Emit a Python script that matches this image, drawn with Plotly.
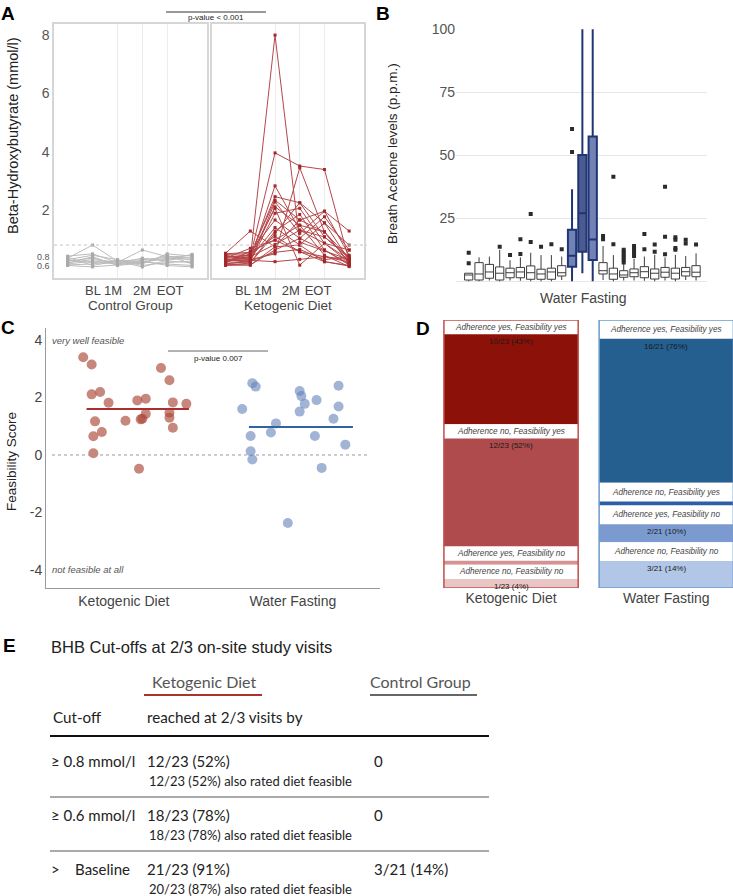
import plotly.graph_objects as go

W, H = 733, 896


def fx(px):
    return px / W


def fy(py):
    return 1 - py / H


# ---------------- A: beta-hydroxybutyrate per visit
TIME_TICKS = ['BL', '1M', '2M', 'EOT']
A_YTICK_TEXT = ['0.6', '0.8', '2', '4', '6', '8']
A_CUTOFF = 0.8
A_GROUPS = ['Control Group', 'Ketogenic Diet']
A_PVALUE = 'p-value < 0.001'

control_bhb = [
    [0.35, 0.80, 0.25, 0.30, 0.38, 0.45],
    [0.42, 0.50, 0.20, 0.63, 0.40, 0.35],
    [0.30, 0.45, 0.30, 0.15, 0.50, 0.42],
    [0.25, 0.35, 0.15, 0.28, 0.30, 0.48],
    [0.20, 0.30, 0.22, 0.20, 0.35, 0.30],
    [0.15, 0.25, 0.18, 0.35, 0.25, 0.20],
    [0.12, 0.15, 0.28, 0.10, 0.20, 0.25],
    [0.10, 0.05, 0.12, 0.22, 0.15, 0.10],
    [0.18, 0.40, 0.10, 0.18, 0.45, 0.15],
    [0.28, 0.20, 0.16, 0.25, 0.10, 0.05],
    [0.38, 0.10, 0.25, 0.05, 0.28, 0.38],
]

keto_bhb = [
    [0.30, 0.35, 8.00, 0.90, 0.60, 0.30],
    [0.35, 0.40, 3.96, 3.51, 3.39, 0.25],
    [0.25, 0.30, 2.83, 1.31, 1.08, 0.40],
    [0.40, 0.45, 2.46, 2.25, 1.56, 0.80],
    [0.20, 0.50, 2.34, 1.66, 1.96, 1.28],
    [0.45, 0.30, 2.11, 1.48, 1.25, 0.35],
    [0.15, 0.25, 1.89, 2.06, 0.86, 0.20],
    [0.50, 0.55, 1.66, 1.03, 1.77, 0.63],
    [0.30, 0.20, 1.28, 1.85, 0.63, 0.15],
    [0.35, 0.69, 0.97, 0.57, 0.40, 0.30],
    [0.52, 1.28, 0.74, 0.80, 0.23, 0.10],
    [0.25, 0.30, 0.50, 3.45, 1.25, 0.20],
    [0.18, 0.22, 2.28, 1.20, 1.96, 0.45],
    [0.12, 0.18, 1.20, 2.25, 1.08, 0.34],
    [0.28, 0.40, 0.82, 1.31, 0.86, 0.63],
    [0.42, 0.35, 1.40, 0.80, 1.56, 0.28],
    [0.10, 0.12, 0.63, 1.03, 0.63, 0.12],
    [0.32, 0.28, 0.23, 0.31, 0.40, 0.22],
    [0.48, 0.50, 1.10, 0.57, 0.23, 0.08],
    [0.15, 0.11, 0.74, 1.66, 1.25, 0.18],
    [0.38, 0.45, 2.06, 0.11, 0.86, 0.30],
    [0.22, 0.58, 0.97, 1.48, 0.45, 0.06],
    [0.27, 0.25, 0.55, 0.65, 0.30, 0.40],
]

# ---------------- B: breath acetone, one box per study day
B_YTICKS = [25, 50, 75, 100]
B_FASTING = [10, 11, 12]  # boxes during water fasting
b_q1 = [0.5, 0.5, 1.2, 0.5, 1.4, 1.4, 0.8, 0.8, 0.8, 2.1, 5.8, 11.7, 8.4,
        2.9, 0.8, 1.6, 1.8, 1.4, 0.9, 1.6, 0.9, 2.1, 1.8]
b_med = [2.5, 2.9, 3.7, 3.2, 3.4, 3.7, 3.4, 2.9, 3.7, 3.4, 10.1, 27.0, 16.6,
         4.2, 2.9, 2.5, 3.4, 3.8, 3.2, 3.6, 3.2, 3.8, 3.6]
b_q3 = [3.2, 7.4, 6.7, 5.7, 5.2, 5.5, 6.1, 4.8, 5.2, 6.2, 20.4, 50.1, 57.4,
        7.4, 5.2, 4.2, 4.9, 5.8, 4.9, 5.5, 5.2, 5.5, 6.2]
b_lo = [0.0, 0.0, 0.3, 0.0, 0.3, 0.2, 0.0, 0.0, 0.0, 0.5, 0.0, 3.2, 0.0,
        0.5, 0.0, 0.3, 0.3, 0.2, 0.0, 0.3, 0.0, 0.5, 0.3]
b_hi = [3.2, 9.5, 9.8, 12.5, 8.4, 9.5, 11.3, 10.4, 10.4, 9.8, 36.5, 100, 100,
        14.0, 10.4, 6.8, 9.0, 9.8, 10.5, 9.5, 10.5, 10.0, 11.1]
b_out = [
    [7.2, 11.3], [], [], [13.7], [10.4], [10.8, 16.7], [15.6, 26.7], [13.7],
    [14.7], [12.7], [51.3, 60.4], [], [],
    [16.7, 18.0], [14.7, 41.5], [7.5, 8.5, 9.5, 10.5, 11.5, 12.5],
    [10.0, 11.0, 12.0, 13.0, 14.0], [12.7, 18.8], [11.7, 14.6],
    [10.7, 17.7, 37.5], [12.5, 13.2, 16.5, 17.5], [15.0, 16.5], [14.6],
]

# ---------------- C: feasibility score
C_GROUPS = ['Ketogenic Diet', 'Water Fasting']
C_PVALUE = 'p-value 0.007'
kd_jitter = [-0.24, -0.19, -0.19, -0.14, -0.09, -0.17, -0.13, -0.18, -0.18, 0.01, 0.08, 0.13,
             0.13, 0.10, 0.11, 0.09, 0.22, 0.27, 0.29, 0.27, 0.27, 0.29, 0.37]
kd_score = [3.40, 3.15, 2.11, 2.19, 1.82, 1.17, 0.80, 0.65, 0.06, 1.19, 1.90, 1.96,
            1.43, 1.24, 1.26, -0.48, 3.03, 2.60, 1.83, 1.47, 1.30, 0.95, 1.78]
wf_jitter = [-0.30, -0.24, -0.22, -0.25, -0.25, -0.24, -0.13, -0.10, -0.03, 0.04,
             0.05, 0.07, 0.04, 0.13, 0.14, 0.17, 0.24, 0.27, 0.27, 0.31]
wf_score = [1.60, 2.50, 2.38, 0.66, 0.13, -0.16, 0.78, 1.10, -2.37, 2.23,
            2.05, 1.78, 1.51, 0.66, 1.91, -0.45, 1.26, 2.41, 1.69, 0.36]
c_means = [1.60, 0.97]

# ---------------- D: adherence vs feasibility
D_SEGMENTS = ['Adherence yes, Feasibility yes', 'Adherence no, Feasibility yes',
              'Adherence yes, Feasibility no', 'Adherence no, Feasibility no']
d_counts = {'Ketogenic Diet': [10, 12, 0, 1], 'Water Fasting': [16, 0, 2, 3]}
d_n = {'Ketogenic Diet': 23, 'Water Fasting': 21}

# ---------------- E: BHB cut-off table
E_TITLE = 'BHB Cut-offs at 2/3 on-site study visits'
E_GROUPS = ['Ketogenic Diet', 'Control Group']
E_HEAD = ['Cut-off', 'reached at 2/3 visits by']
E_CUTOFF = ['≥ 0.8 mmol/l', '≥ 0.6 mmol/l', '>\u00a0\u00a0\u00a0 Baseline']
E_KD = ['12/23 (52%)', '18/23 (78%)', '21/23 (91%)']
E_KD_FEAS = ['12/23 (52%) also rated diet feasible', '18/23 (78%) also rated diet feasible',
             '20/23 (87%) also rated diet feasible']
E_CG = ['0', '0', '3/21 (14%)']

FONT = 'Liberation Sans, Arial, sans-serif'
TFONT = 'Lato, Open Sans, sans-serif'
KD_RED = '#a8332f'

fig = go.Figure()
ann = []
shapes = []


def note(px, py, text, size, color='#222', anchor='center', family=FONT, angle=0):
    # text placed at picture pixel coordinates
    ann.append(dict(x=fx(px), y=fy(py), xref='paper', yref='paper', text=text,
                    xanchor=anchor, yanchor='middle', textangle=angle, showarrow=False,
                    font=dict(size=size, color=color, family=family)))


def hline(x0, x1, py, color, width=1, dash='solid'):
    shapes.append(dict(type='line', xref='paper', yref='paper', x0=fx(x0), x1=fx(x1),
                       y0=fy(py), y1=fy(py), line=dict(color=color, width=width, dash=dash)))


# ---- A traces
for row in control_bhb:
    fig.add_trace(go.Scatter(
        x=list(range(len(row))), y=row, mode='lines+markers',
        line=dict(color='#bcbcbc', width=1),
        marker=dict(color='#a9a9a9', size=3, symbol='square'),
        xaxis='x', yaxis='y', showlegend=False, hoverinfo='skip'))
for row in keto_bhb:
    fig.add_trace(go.Scatter(
        x=list(range(len(row))), y=row, mode='lines+markers',
        line=dict(color='#b5474a', width=1),
        marker=dict(color='#a3282b', size=3, symbol='square'),
        xaxis='x2', yaxis='y2', showlegend=False, hoverinfo='skip'))

# ---- B traces
for i in range(len(b_med)):
    if i in B_FASTING:
        fill = '#4c5b8f' if i == B_FASTING[1] else '#7282b5'
        edge, lw = '#1f3576', 2
    else:
        fill, edge, lw = 'white', '#3d3d3d', 1
    fig.add_trace(go.Box(
        x=[i], q1=[b_q1[i]], median=[b_med[i]], q3=[b_q3[i]],
        lowerfence=[b_lo[i]], upperfence=[b_hi[i]],
        width=0.8, whiskerwidth=0, fillcolor=fill,
        line=dict(color=edge, width=lw), boxpoints=False,
        xaxis='x3', yaxis='y3', showlegend=False, hoverinfo='skip'))
ox, oy = [], []
for i, pts in enumerate(b_out):
    ox += [i] * len(pts)
    oy += pts
fig.add_trace(go.Scatter(
    x=ox, y=oy, mode='markers',
    marker=dict(symbol='square', size=4, color='#2b2b2b'),
    xaxis='x3', yaxis='y3', showlegend=False, hoverinfo='skip'))

# ---- C traces
fig.add_trace(go.Scatter(
    x=[0 + j for j in kd_jitter], y=kd_score, mode='markers',
    marker=dict(size=10, color='rgba(170,70,55,0.65)'),
    xaxis='x4', yaxis='y4', showlegend=False, hoverinfo='skip'))
fig.add_trace(go.Scatter(
    x=[1 + j for j in wf_jitter], y=wf_score, mode='markers',
    marker=dict(size=10, color='rgba(100,130,185,0.6)'),
    xaxis='x4', yaxis='y4', showlegend=False, hoverinfo='skip'))
for k, (m, col) in enumerate(zip(c_means, ['#a8302e', '#2f64a0'])):
    fig.add_trace(go.Scatter(
        x=[k - 0.22 - 0.04 * k, k + 0.385 - 0.03 * k], y=[m, m], mode='lines',
        line=dict(color=col, width=2),
        xaxis='x4', yaxis='y4', showlegend=False, hoverinfo='skip'))

# ---- D traces (stacked bands, label band above each coloured band)
UNIT_TOTAL = 29.8
ZERO_H = 0.45
d_colors = {'Ketogenic Diet': ['#8c1209', '#af4b4c', '#d49392', '#e9c6c6'],
            'Water Fasting': ['#245f8f', '#2d5fa8', '#7b9bd0', '#b2c7e7']}
d_edges = {'Ketogenic Diet': '#c0504d', 'Water Fasting': '#6c9bcb'}
for gi, (grp, counts) in enumerate(d_counts.items()):
    n = d_n[grp]
    heights = [c if c > 0 else ZERO_H for c in counts]
    band = (UNIT_TOTAL - sum(heights)) / len(counts)
    base = 0.0
    for si, (c, h) in enumerate(zip(counts, heights)):
        fig.add_trace(go.Bar(
            x=[gi], y=[band], base=[base], width=0.865,
            marker=dict(color='white', line=dict(width=0)),
            xaxis='x5', yaxis='y5', showlegend=False, hoverinfo='skip'))
        ann.append(dict(x=gi, y=base + band / 2, xref='x5', yref='y5', yanchor='middle',
                        text='<i>' + D_SEGMENTS[si] + '</i>', showarrow=False,
                        font=dict(size=8.2, color='#444', family=FONT)))
        base += band
        fig.add_trace(go.Bar(
            x=[gi], y=[h], base=[base], width=0.865,
            marker=dict(color=d_colors[grp][si], line=dict(width=0)),
            xaxis='x5', yaxis='y5', showlegend=False, hoverinfo='skip'))
        if c > 0:
            ann.append(dict(x=gi, y=base + 0.1, xref='x5', yref='y5', yanchor='top',
                            text=f'{c}/{n} ({round(100 * c / n)}%)', showarrow=False,
                            font=dict(size=8, color='#1a1a1a', family=FONT)))
        base += h
    fig.add_trace(go.Bar(
        x=[gi], y=[UNIT_TOTAL], base=[0], width=0.865,
        marker=dict(color='rgba(0,0,0,0)', line=dict(color=d_edges[grp], width=1.5)),
        xaxis='x5', yaxis='y5', showlegend=False, hoverinfo='skip'))

# ---- axes
frame = dict(showline=True, mirror=True, linecolor='#d6d6d6', linewidth=1.5)
a_x = dict(range=[-0.55, 5.6], showgrid=False, zeroline=False, ticks='',
           tickmode='array', ticktext=TIME_TICKS, tickangle=0, automargin=False,
           tickfont=dict(size=13, color='#444', family=FONT),
           minor=dict(tickmode='array', tickvals=[2, 3, 4], showgrid=True,
                      gridcolor='#ececec', gridwidth=1, ticklen=0), **frame)
a_y = dict(range=[-0.33, 8.38], domain=[fy(278), fy(24)], showgrid=False, zeroline=False,
           tickmode='array', tickvals=[0.15, 0.47, 2, 4, 6, 8],
           ticktext=['<span style="font-size:9px">' + t + '</span>' if '.' in t else t
                     for t in A_YTICK_TEXT], automargin=False,
           ticks='', tickfont=dict(size=14, color='#555', family=FONT), **frame)

fig.update_layout(
    template='none',
    width=W, height=H, margin=dict(l=0, r=0, t=0, b=0, pad=0),
    paper_bgcolor='white', plot_bgcolor='white',
    barmode='overlay', boxmode='overlay', showlegend=False,
    font=dict(family=FONT, color='#333'),
    xaxis=dict(domain=[fx(54), fx(207)], anchor='y', tickvals=[1.02, 1.82, 2.99, 4.12], **a_x),
    yaxis=dict(anchor='x', **a_y),
    xaxis2=dict(domain=[fx(212), fx(364)], anchor='y2', tickvals=[0.70, 1.51, 2.64, 3.74], **a_x),
    yaxis2=dict(anchor='x2', showticklabels=False,
                **{k: v for k, v in a_y.items() if k not in ('tickvals', 'ticktext', 'tickfont')}),
    xaxis3=dict(domain=[fx(456), fx(707)], anchor='y3', range=[-1.23, 23.06], automargin=False,
                showticklabels=False, showgrid=False, zeroline=False, showline=False, ticks=''),
    yaxis3=dict(domain=[fy(282.8), fy(29.0)], anchor='x3', range=[-0.6, 100.1], automargin=False,
                tickmode='array', tickvals=B_YTICKS, showgrid=False, zeroline=False,
                showline=False, ticks='', tickfont=dict(size=14, color='#555'),
                minor=dict(tickmode='array', tickvals=[0, 25, 50, 75], showgrid=True,
                           gridcolor='#e6e6e6', gridwidth=1, ticklen=0)),
    xaxis4=dict(domain=[fx(46), fx(380)], anchor='y4', range=[-0.46, 1.515], automargin=False,
                tickmode='array', tickvals=[0, 1], ticktext=C_GROUPS, ticks='',
                tickfont=dict(size=14, color='#444'), showgrid=False, zeroline=False,
                showline=True, linecolor='#9a9a9a', linewidth=1),
    yaxis4=dict(domain=[fy(588), fy(328)], anchor='x4', range=[-4.63, 4.42], automargin=False,
                tickmode='array', tickvals=[-4, -2, 0, 2, 4],
                ticktext=['-4', '-2', '0', '2', '4'], ticks='',
                tickfont=dict(size=14, color='#444'), showgrid=False, zeroline=False,
                showline=True, linecolor='#9a9a9a', linewidth=1),
    xaxis5=dict(domain=[fx(435), fx(733)], anchor='y5', range=[-0.49, 1.43], automargin=False,
                tickmode='array', tickvals=[0, 1], ticktext=list(d_counts.keys()), ticks='',
                tickfont=dict(size=14, color='#444'), showgrid=False, zeroline=False,
                showline=False),
    yaxis5=dict(domain=[fy(588), fy(320)], anchor='x5', range=[UNIT_TOTAL, 0], automargin=False,
                showticklabels=False, showgrid=False, zeroline=False, showline=False),
)

# ---- A decorations
shapes.append(dict(type='line', xref='paper', yref='y', x0=fx(54), x1=fx(367),
                   y0=A_CUTOFF, y1=A_CUTOFF, line=dict(color='#c4c4c4', width=1, dash='dot')))
hline(166, 266, 12, '#333')
note(216, 18, A_PVALUE, 8)
for name, cx in zip(A_GROUPS, [130, 288]):
    note(cx, 305, name, 13.5, '#444')
note(13, 136, 'Beta-Hydroxybutyrate (mmol/l)', 14.5, angle=-90)

# ---- B decorations
note(392, 154, 'Breath Acetone levels (p.p.m.)', 13.5, angle=-90)
note(583, 298, 'Water Fasting', 14, '#444')

# ---- C decorations
shapes.append(dict(type='line', xref='paper', yref='y4', x0=fx(52), x1=fx(370),
                   y0=0, y1=0, line=dict(color='#9a9a9a', width=1, dash='dot')))
hline(168, 268, 351, '#666')
note(218, 358, C_PVALUE, 8)
note(50, 340, '<i>very well feasible</i>', 9.5, '#555', 'left')
note(50, 569, '<i>not feasible at all</i>', 9.5, '#555', 'left')
note(11, 462, 'Feasibility Score', 13.5, angle=-90)

# ---- panel letters
for letter, px, py in [('A', 8, 13), ('B', 383, 13), ('C', 8, 327), ('D', 423, 328), ('E', 9, 645)]:
    note(px, py, '<b>' + letter + '</b>', 19, 'black')

# ---- E table
note(49, 647, E_TITLE, 16.5, '#222', 'left')
for name, x0, x1, col in zip(E_GROUPS, [144, 370], [262, 477], [KD_RED, '#666']):
    note(x0 + 6 if col == KD_RED else x0 - 2, 681, name, 16, '#555', 'left', TFONT)
    hline(x0, x1, 695, col, 2)
for txt, x0 in zip(E_HEAD, [51, 145]):
    note(x0, 717, txt, 15.2, '#222', 'left', TFONT)
hline(50, 489, 736, '#111', 2)
for i in range(len(E_CUTOFF)):
    ym = 761 + 54 * i
    for txt, x0 in zip([E_CUTOFF[i], E_KD[i], E_CG[i]], [49, 145, 372]):
        note(x0, ym, txt, 15, '#222', 'left', TFONT)
    note(147, ym + 20, E_KD_FEAS[i], 13, '#222', 'left', TFONT)
    if i < len(E_CUTOFF) - 1:
        hline(50, 489, ym + 36, '#555')

fig.update_layout(annotations=ann, shapes=shapes)
# the page body has a default 8px margin; drop it so the figure fills the window
fig.write_html('out.html', config={'displayModeBar': False},
               post_script="document.body.style.margin='0';")
